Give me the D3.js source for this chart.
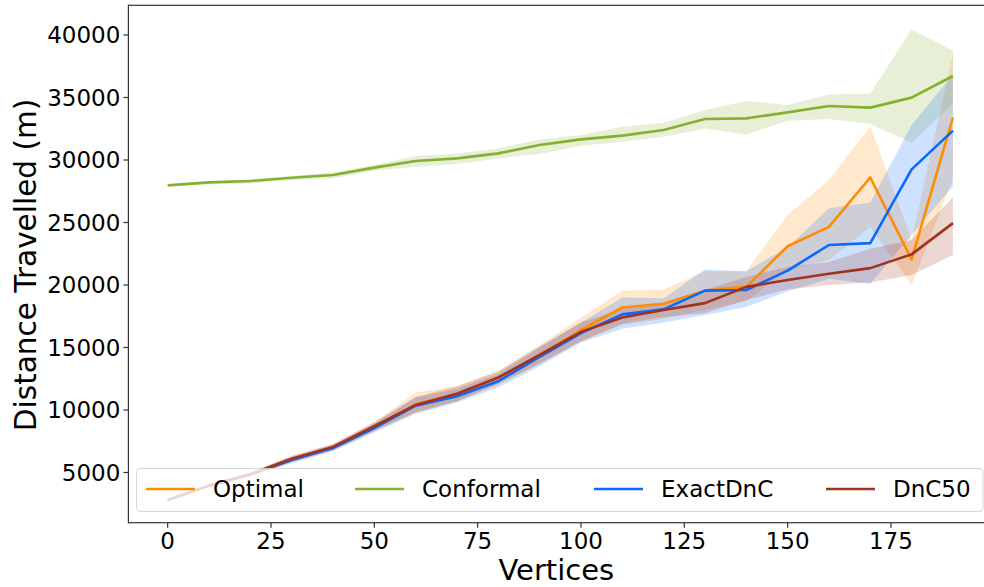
<!DOCTYPE html>
<html>
<head>
  <meta charset="utf-8">
  <title>Distance vs Vertices</title>
  <style>
    body { margin: 0; background: #fff; }
    text { font-family: "DejaVu Sans", sans-serif; fill: #000; }
  </style>
</head>
<body>
<script src="https://d3js.org/d3.v7.min.js"></script>
<svg id="chart" width="984" height="587"></svg>

<script>
    // vertices
    var vertices = [0,10,20,30,40,50,60,70,80,90,100,110,120,130,140,150,160,170,180,190];

    // Optimal
    var optMean = [2800,3950,4850,6050,7000,8650,10450,11300,12550,14400,16400,18200,18500,19550,19850,23100,24650,28600,22050,33400];
    var optLo   = [2800,3850,4700,5800,6750,8300,9800,10700,12000,13700,15500,16800,17300,18000,18700,21200,22000,24650,20000,28500];
    var optHi   = [2800,4050,5000,6300,7250,9000,11400,11900,13100,15200,17400,19550,19650,21100,21100,25600,28400,32700,23600,38500];

    // Conformal
    var confMean = [27970,28210,28320,28580,28800,29390,29920,30130,30530,31200,31650,31950,32400,33280,33330,33810,34320,34190,34990,36720];
    var confLo   = [27940,28050,28130,28400,28530,29150,29470,29680,30130,30480,31150,31470,31870,32530,32050,33150,33280,32880,31390,34530];
    var confHi   = [28000,28320,28450,28720,29010,29600,30320,30530,30930,31650,32000,32670,32990,34000,34720,34400,35250,35330,40450,38750];

    // ExactDnC
    var exMean = [2800,3950,4850,6000,6950,8550,10350,11100,12300,14250,16150,17650,18050,19550,19600,21150,23200,23350,29250,32350];
    var exLo   = [2800,3850,4700,5750,6700,8200,9700,10600,11800,13500,15400,16500,17000,17600,18250,19500,20500,20100,24000,27900];
    var exHi   = [2800,4050,5000,6250,7200,8900,11000,11700,12900,15000,17000,19000,18950,21250,21100,23000,26150,26600,32800,36800];

    // DnC50
    var dncMean = [2800,3950,4850,6100,7050,8700,10400,11300,12600,14400,16250,17400,18000,18550,19850,20400,20900,21350,22450,24950];
    var dncLo   = [2800,3850,4700,5850,6800,8350,9800,10700,12100,13700,15500,16900,17450,17750,18800,19650,20000,20200,20800,22400];
    var dncHi   = [2800,4050,5000,6350,7300,9050,11050,11900,13100,15100,17000,18100,18600,19600,20650,21450,21850,22900,23600,27000];

    var seriesNames = ["Optimal", "Conformal", "ExactDnC", "DnC50"];
    var seriesColors = ["#ff8c00", "#86b030", "#0a68ff", "#a0321f"];
    var xTicks = [0,25,50,75,100,125,150,175];
    var yTicks = [5000,10000,15000,20000,25000,30000,35000,40000];

    var series = [
        {mean: optMean, lo: optLo, hi: optHi},
        {mean: confMean, lo: confLo, hi: confHi},
        {mean: exMean, lo: exLo, hi: exHi},
        {mean: dncMean, lo: dncLo, hi: dncHi}
    ];

    var svg = d3.select("#chart");
    var pLeft = 128.4, pRight = 992.2, pTop = 5.3, pBottom = 522.7;

    var x = d3.scaleLinear().domain([-9.5, 199.5]).range([pLeft, pRight]);
    var y = d3.scaleLinear().domain([984, 42376]).range([pBottom, pTop]);

    var bandLayer = svg.append("g");
    var lineLayer = svg.append("g");

    var area = d3.area()
        .x(function(d) { return x(d.x); })
        .y0(function(d) { return y(d.lo); })
        .y1(function(d) { return y(d.hi); });
    var line = d3.line()
        .x(function(d) { return x(d.x); })
        .y(function(d) { return y(d.m); });

    // bands sit under all lines (like matplotlib zorder)
    series.forEach(function(s, k) {
        var pts = vertices.map(function(v, i) {
            return {x: v, m: s.mean[i], lo: s.lo[i], hi: s.hi[i]};
        });
        bandLayer.append("path")
            .attr("d", area(pts))
            .attr("fill", seriesColors[k])
            .attr("fill-opacity", 0.2)
            .attr("stroke", "none");
        lineLayer.append("path")
            .attr("d", line(pts))
            .attr("fill", "none")
            .attr("stroke", seriesColors[k])
            .attr("stroke-width", 2.6)
            .attr("stroke-linejoin", "round");
    });

    // frame
    svg.append("rect")
        .attr("x", pLeft).attr("y", pTop)
        .attr("width", pRight - pLeft).attr("height", pBottom - pTop)
        .attr("fill", "none").attr("stroke", "#333").attr("stroke-width", 1.2);

    // x axis
    var xa = svg.append("g");
    xTicks.forEach(function(t) {
        xa.append("line")
            .attr("x1", x(t)).attr("x2", x(t))
            .attr("y1", pBottom).attr("y2", pBottom + 5)
            .attr("stroke", "#333").attr("stroke-width", 1.2);
        xa.append("text")
            .attr("x", x(t)).attr("y", pBottom + 26)
            .attr("text-anchor", "middle")
            .style("font-size", "23px")
            .text(t);
    });

    // y axis
    var ya = svg.append("g");
    yTicks.forEach(function(t) {
        ya.append("line")
            .attr("x1", pLeft - 5).attr("x2", pLeft)
            .attr("y1", y(t)).attr("y2", y(t))
            .attr("stroke", "#333").attr("stroke-width", 1.2);
        ya.append("text")
            .attr("x", pLeft - 8).attr("y", y(t))
            .attr("dy", "0.36em")
            .attr("text-anchor", "end")
            .style("font-size", "23px")
            .text(t);
    });

    svg.append("text")
        .attr("x", (pLeft + pRight) / 2 - 4).attr("y", 580)
        .attr("text-anchor", "middle")
        .style("font-size", "29px")
        .text("Vertices");

    svg.append("text")
        .attr("transform", "translate(36," + 265 + ") rotate(-90)")
        .attr("text-anchor", "middle")
        .style("font-size", "29.5px")
        .text("Distance Travelled (m)");

    // legend
    var lg = svg.append("g");
    lg.append("rect")
        .attr("x", 136.5).attr("y", 468.5)
        .attr("width", 846.5).attr("height", 43)
        .attr("rx", 4)
        .attr("fill", "#fff").attr("fill-opacity", 0.8)
        .attr("stroke", "#ccc").attr("stroke-opacity", 0.8);
    var handleX = [146, 355, 594, 826];
    seriesNames.forEach(function(n, k) {
        lg.append("line")
            .attr("x1", handleX[k]).attr("x2", handleX[k] + 49)
            .attr("y1", 489).attr("y2", 489)
            .attr("stroke", seriesColors[k]).attr("stroke-width", 2.6);
        lg.append("text")
            .attr("x", handleX[k] + 67).attr("y", 489)
            .attr("dy", "0.36em")
            .style("font-size", "23px")
            .text(n);
    });
</script>
</body>
</html>
